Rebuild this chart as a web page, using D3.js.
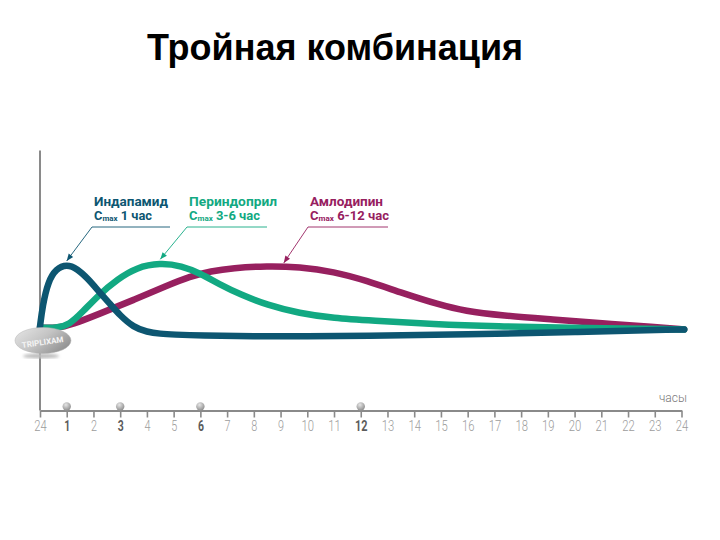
<!DOCTYPE html>
<html lang="ru">
<head>
<meta charset="UTF-8">
<title>Тройная комбинация</title>
<script src="https://d3js.org/d3.v7.min.js"></script>
<style>
    html, body { margin: 0; padding: 0; background: #fff; }
    svg { display: block; }
    .tick text { font-family: Roboto, sans-serif; font-size: 14px; fill: #9c9c9c; font-weight: 300; }
    .tick text.key { font-weight: 700; fill: #5c5c5c; }
    .tick line, .domain { stroke: #8a8a8a; }
</style>
</head>
<body>
<svg width="720" height="540"></svg>
<script>
    const title = "Тройная комбинация";
    const axisUnit = "часы";
    const tickHours = d3.range(25);
    const tickLabels = ["24"].concat(d3.range(1, 25).map(String));
    const keyHours = [1, 3, 6, 12];

    const indapamidHours = [0, 0.1, 0.3, 0.6, 1, 1.4, 1.8, 2.2, 2.6, 3, 3.5, 4, 4.5, 5, 6, 8, 10, 12, 16, 20, 24.1];
    const indapamidValues = [32.3, 40.4, 49.5, 54.5, 56.2, 54.5, 50.6, 45.8, 41.2, 36.5, 32, 30.2, 29.5, 29.2, 28.8, 28.5, 28.5, 28.7, 29.2, 30.2, 31.2];

    const perindoprilHours = [0, 0.6, 1.1, 1.6, 2.2, 2.9, 3.6, 4.5, 5.3, 6, 6.7, 7.5, 8.5, 9.7, 11, 12.4, 14.7, 17.2, 19.5, 24.1];
    const perindoprilValues = [31.9, 31.6, 33, 38, 44.5, 50.5, 55, 56.8, 55.6, 52.7, 48.6, 44.6, 40.6, 37.4, 35.5, 34.6, 33.2, 32.3, 31.8, 31.2];

    const amlodipinHours = [0, 0.6, 1.2, 2.25, 3.5, 4.75, 5.6, 6.4, 7.2, 8.5, 9.7, 11, 12.2, 13.6, 14.9, 15.9, 17.3, 19.2, 21, 23, 24.1];
    const amlodipinValues = [31.9, 31.6, 33, 37.3, 42.5, 48, 51.5, 53.6, 54.8, 55.6, 55.2, 53.4, 50, 45, 40.8, 38.2, 36.5, 35, 33.5, 32.1, 31.2];

    const svg = d3.select("svg");
    const x = d3.scaleLinear().domain([0, 24]).range([40, 681.5]);
    const y = d3.scaleLinear().domain([0, 100]).range([410.5, 150.5]);

    svg.append("text")
        .attr("x", 147).attr("y", 60)
        .attr("font-family", "Liberation Sans, Arial, sans-serif")
        .attr("font-size", 36).attr("font-weight", 700)
        .attr("fill", "#000")
        .text(title);

    const defs = svg.append("defs");
    const silver = defs.append("linearGradient").attr("id", "silver")
        .attr("x1", 0).attr("y1", 0.1).attr("x2", 1).attr("y2", 0.7);
    silver.append("stop").attr("offset", "0%").attr("stop-color", "#e4e4e4");
    silver.append("stop").attr("offset", "50%").attr("stop-color", "#c4c4c4");
    silver.append("stop").attr("offset", "100%").attr("stop-color", "#8f8f8f");
    const ball = defs.append("radialGradient").attr("id", "ball")
        .attr("cx", "40%").attr("cy", "30%").attr("r", "70%");
    ball.append("stop").attr("offset", "0%").attr("stop-color", "#e6e6e6");
    ball.append("stop").attr("offset", "100%").attr("stop-color", "#8e8e8e");
    defs.append("filter").attr("id", "soft")
        .append("feGaussianBlur").attr("stdDeviation", 1.6);

    // axes
    svg.append("line")
        .attr("x1", x(0)).attr("x2", x(0))
        .attr("y1", y(100)).attr("y2", y(0))
        .attr("stroke", "#8a8a8a").attr("stroke-width", 2);

    const axis = svg.append("g")
        .attr("transform", `translate(0,${y(0)})`)
        .call(d3.axisBottom(x)
            .tickValues(tickHours)
            .tickSize(7)
            .tickSizeOuter(0)
            .tickPadding(4)
            .tickFormat(d => tickLabels[d]));
    axis.select(".domain").attr("stroke-width", 2);
    axis.selectAll(".tick line").attr("stroke-width", 1.6);
    axis.selectAll(".tick text")
        .classed("key", d => keyHours.includes(d))
        .attr("textLength", d => tickLabels[d].length > 1 ? 12.5 : 6)
        .attr("lengthAdjust", "spacingAndGlyphs");
    axis.attr("font-family", null).attr("font-size", null);

    svg.selectAll("circle.ball")
        .data(keyHours)
        .enter().append("circle")
        .attr("class", "ball")
        .attr("cx", d => x(d)).attr("cy", y(0) - 4)
        .attr("r", 4.2)
        .attr("fill", "url(#ball)");

    svg.append("text")
        .attr("x", 687).attr("y", 402)
        .attr("text-anchor", "end")
        .attr("font-family", "Roboto, sans-serif")
        .attr("font-size", 12).attr("font-weight", 300)
        .attr("fill", "#777")
        .text(axisUnit);

    // curves, back to front
    const line = d3.line()
        .x(d => x(d[0])).y(d => y(d[1]))
        .curve(d3.curveBasis);

    const curves = [
        { hours: amlodipinHours, values: amlodipinValues, color: "#97205f" },
        { hours: perindoprilHours, values: perindoprilValues, color: "#12a982" },
        { hours: indapamidHours, values: indapamidValues, color: "#0d5671" }
    ];
    svg.selectAll("path.curve")
        .data(curves)
        .enter().append("path")
        .attr("class", "curve")
        .attr("fill", "none")
        .attr("stroke", d => d.color)
        .attr("stroke-width", 6.5)
        .attr("stroke-linecap", "round")
        .attr("d", d => line(d3.zip(d.hours, d.values)));

    // pill
    svg.append("ellipse")
        .attr("cx", 41).attr("cy", 356).attr("rx", 18).attr("ry", 2.5)
        .attr("fill", "#bbb").attr("filter", "url(#soft)");
    svg.append("ellipse")
        .attr("cx", 43).attr("cy", 340.5).attr("rx", 28).attr("ry", 13)
        .attr("fill", "url(#silver)").attr("stroke", "#b5b5b5").attr("stroke-width", 0.5);
    svg.append("text")
        .attr("transform", "translate(43,345) rotate(-8)")
        .attr("text-anchor", "middle")
        .attr("font-family", "Roboto, sans-serif")
        .attr("font-size", 8).attr("font-weight", 700)
        .attr("fill", "#f4f4f4")
        .text("TRIPLIXAM");

    // callouts
    const callouts = [
        { name: "Индапамид", cmax: " 1 час", color: "#0d5671", hour: 1, peak: 56.2, textX: 94, x0: 92, x1: 170, nameW: 74, lineW: 58 },
        { name: "Периндоприл", cmax: " 3-6 час", color: "#12a982", hour: 4.5, peak: 56.8, textX: 189, x0: 187, x1: 267, nameW: 88, lineW: 71 },
        { name: "Амлодипин", cmax: " 6-12 час", color: "#97205f", hour: 9.12, peak: 55.4, textX: 310, x0: 308, x1: 388, nameW: 73, lineW: 79 }
    ];
    callouts.forEach(c => {
        const tipX = x(c.hour), tipY = y(c.peak) - 3.5;
        svg.append("path")
            .attr("fill", "none").attr("stroke", c.color).attr("stroke-width", 0.9)
            .attr("d", `M${c.x1},227H${c.x0}L${tipX},${tipY}`);
        const dx = tipX - c.x0, dy = tipY - 227;
        const a = Math.atan2(dy, dx) * 180 / Math.PI;
        svg.append("path")
            .attr("fill", c.color)
            .attr("transform", `translate(${tipX},${tipY}) rotate(${a})`)
            .attr("d", "M0,0L-7,-2.8L-7,2.8Z");
        svg.append("text")
            .attr("x", c.textX).attr("y", 206)
            .attr("font-family", "Roboto, sans-serif")
            .attr("font-size", 13).attr("font-weight", 700)
            .attr("fill", c.color)
            .attr("textLength", c.nameW).attr("lengthAdjust", "spacingAndGlyphs")
            .text(c.name);
        const t = svg.append("text")
            .attr("x", c.textX).attr("y", 220)
            .attr("font-family", "Roboto, sans-serif")
            .attr("font-weight", 700)
            .attr("fill", c.color)
            .attr("textLength", c.lineW).attr("lengthAdjust", "spacingAndGlyphs");
        t.append("tspan").attr("font-size", 13).text("C");
        t.append("tspan").attr("font-size", 8).attr("dy", 1).text("max");
        t.append("tspan").attr("font-size", 13).attr("dy", -1).text(c.cmax);
    });
</script>
</body>
</html>
